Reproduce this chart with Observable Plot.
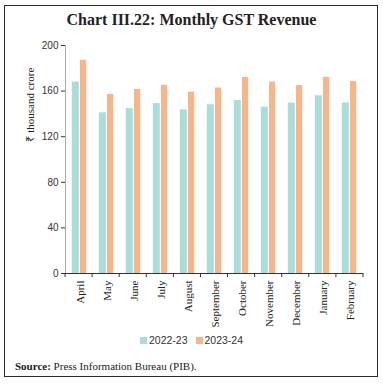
<!DOCTYPE html>
<html>
<head>
<meta charset="utf-8">
<script src="https://cdn.jsdelivr.net/npm/d3@7"></script>
<script src="https://cdn.jsdelivr.net/npm/@observablehq/plot@0.6"></script>
<style>
  html, body { margin: 0; padding: 0; background: #fff; }
  #wrap { position: relative; width: 383px; height: 384px; overflow: hidden; background: #fff; }
  #frame { position: absolute; left: 4px; top: 5px; width: 372px; height: 370px; border: 1.5px solid #2b2b2b; }
  #title { position: absolute; left: 0; width: 383px; top: 11px; text-align: center;
    font-family: "Liberation Serif", serif; font-weight: bold; font-size: 16px; color: #222; }
  #chart { position: absolute; left: 0; top: 34px; }
  #legend { position: absolute; left: 0; width: 383px; top: 334px; display: flex; justify-content: center; gap: 8px;
    font-family: "Liberation Sans", sans-serif; font-size: 10.5px; color: #333; }
  #legend span.item { display: flex; align-items: center; }
  #legend span.sw { display: inline-block; width: 7px; height: 7px; margin-right: 2px; }
  #source { position: absolute; left: 15px; top: 360px; font-family: "Liberation Serif", serif; font-size: 11px; color: #222; }
</style>
</head>
<body>
<div id="wrap">
  <div id="frame"></div>
  <div id="title">Chart III.22: Monthly GST Revenue</div>
  <div id="chart"></div>
  <div id="legend"></div>
  <div id="source"><b>Source:</b> Press Information Bureau (PIB).</div>
</div>
<script>
const months = ["April","May","June","July","August","September","October","November","December","January","February"];
const seriesNames = ["2022-23","2023-24"];
const values2022_23 = [168, 141, 144.6, 149, 143.6, 148, 151.7, 146, 149.5, 155.9, 149.6];
const values2023_24 = [187, 157.1, 161.5, 165.1, 159.1, 162.7, 172, 167.9, 164.9, 172.1, 168.3];
const yTicks = [0, 40, 80, 120, 160, 200];
const yLabel = "₹ thousand crore";
const colors = ["#A8DDD9", "#F8B58A"];

const rows = [];
months.forEach((m, i) => {
  rows.push({month: m, series: seriesNames[0], value: values2022_23[i]});
  rows.push({month: m, series: seriesNames[1], value: values2023_24[i]});
});

const W = 383, H = 300, ML = 65, MR = 20, MT = 11, MB = 61;

const chart = Plot.plot({
  width: W, height: H,
  marginLeft: ML, marginRight: MR, marginTop: MT, marginBottom: MB,
  style: {fontFamily: "Liberation Serif, serif", fontSize: "11px", color: "#222", background: "transparent"},
  x: {domain: months, padding: 0, label: null},
  y: {domain: [0, 200], label: null},
  color: {domain: seriesNames, range: colors},
  marks: [
    Plot.barY(rows.filter(d => d.series === seriesNames[0]), {x: "month", y: "value", fill: "series", insetLeft: 5.8, insetRight: 14.2}),
    Plot.barY(rows.filter(d => d.series === seriesNames[1]), {x: "month", y: "value", fill: "series", insetLeft: 14, insetRight: 6.8}),
    Plot.axisY({ticks: yTicks, tickSize: 4, tickPadding: 3, label: null, fontFamily: "Liberation Sans, sans-serif", fontSize: 10, stroke: "#333", color: "#333"}),
    Plot.axisX({tickSize: 0, tickRotate: -90, tickPadding: 7, label: null, fontSize: 11}),
    Plot.frame({anchor: "left", stroke: "#aaa"}),
    Plot.ruleY([0], {stroke: "#333", strokeWidth: 1.2}),
    Plot.text([yLabel], {text: d => d, frameAnchor: "left", rotate: -90, dx: -35, dy: -18, fontSize: 11, fill: "#222"})
  ]
});
document.getElementById("chart").appendChild(chart);

// boundary ticks between month bands, from the plot's own x scale
const xs = chart.scale("x");
const sx = d3.scaleBand().domain(xs.domain).range(xs.range).padding(0);
const y0 = chart.scale("y").apply(0);
const svg = d3.select(chart);
const bounds = months.map(m => sx(m)).concat([sx(months[months.length - 1]) + sx.bandwidth()]);
svg.append("g").selectAll("line").data(bounds).join("line")
  .attr("x1", d => d).attr("x2", d => d)
  .attr("y1", y0).attr("y2", y0 + 4)
  .attr("stroke", "#333").attr("stroke-width", 1);

const legend = document.getElementById("legend");
seriesNames.forEach((s, i) => {
  const item = document.createElement("span");
  item.className = "item";
  item.innerHTML = `<span class="sw" style="background:${colors[i]}"></span>${s}`;
  legend.appendChild(item);
});
</script>
</body>
</html>
